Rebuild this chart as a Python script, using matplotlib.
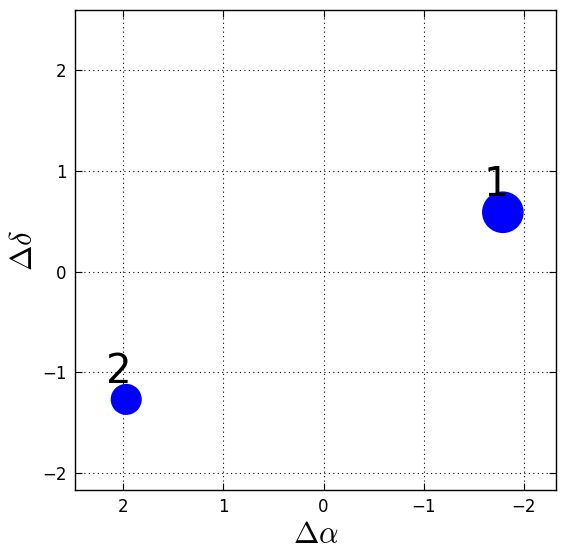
import matplotlib
matplotlib.use("Agg")
import matplotlib.pyplot as plt
import numpy as np

plt.rcParams["mathtext.fontset"] = "cm"

# source offsets and sizes
labels = ["1", "2"]
dra = np.array([-1.79, 1.97])
ddec = np.array([0.59, -1.27])
sizes = np.array([900, 500])

fig = plt.figure(figsize=(5.65, 5.58), dpi=100)
ax = fig.add_axes([0.133, 0.122, 0.851, 0.860])

ax.scatter(dra, ddec, s=sizes, c="blue", edgecolors="none", zorder=3)
for lab, x, y in zip(labels, dra, ddec):
    ax.annotate(lab, (x, y), xytext=(-5, 12), textcoords="offset points",
                ha="center", va="baseline", fontsize=29)

ax.set_xlim(2.48, -2.32)
ax.set_ylim(-2.17, 2.6)
ax.set_xticks([2, 1, 0, -1, -2])
ax.set_yticks([-2, -1, 0, 1, 2])
ax.grid(True, color="black", linewidth=0.8, dashes=(1, 3))
ax.tick_params(direction="in", top=True, right=True, labelsize=12, length=5,
               pad=6)
for s in ax.spines.values():
    s.set_linewidth(1.0)
ax.set_xlabel(r"$\Delta\alpha$", fontsize=22, labelpad=3)
ax.set_ylabel(r"$\Delta\delta$", fontsize=22, labelpad=3)

fig.savefig("out.png", dpi=100)
